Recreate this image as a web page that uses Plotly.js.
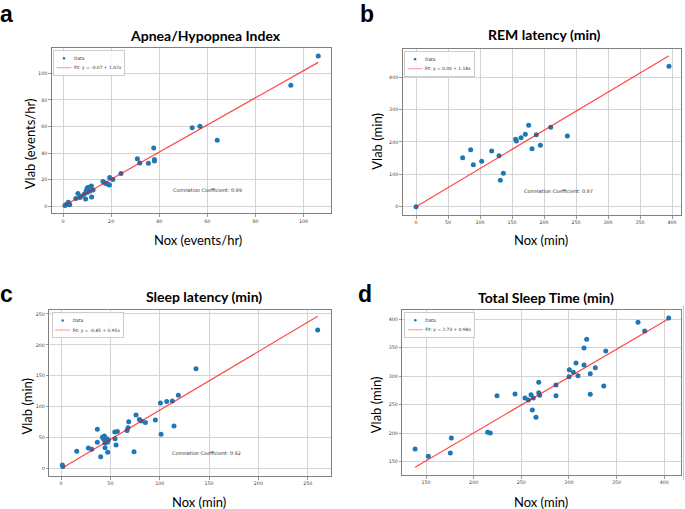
<!DOCTYPE html>
<html><head><meta charset="utf-8">
<script src="https://cdn.plot.ly/plotly-3.0.1.min.js"></script>
<style>html,body{margin:0;padding:0;background:#fff}#chart{width:685px;height:509px}</style>
</head><body><div id="chart"></div>
<script>
// ---- Panel a: Apnea/Hypopnea Index ----
const ahiNox  = [0.8, 1.2, 1.8, 2.2, 2.5, 2.8, 5.3, 6.2, 7.0, 7.6, 8.8, 9.4, 9.6, 10.0, 10.2, 10.5, 10.8, 11.2, 11.8, 11.9, 12.5, 16.6, 17.5, 18.0, 18.9, 19.4, 19.3, 20.7, 24.1, 30.9, 31.9, 35.5, 37.7, 38.0, 38.0, 53.7, 56.9, 64.1, 94.7, 106.1];
const ahiVlab = [0.6, 1.2, 1.5, 3.0, 1.8, 1.2, 5.8, 9.5, 6.5, 7.5, 9.0, 5.5, 11.5, 13.5, 10.5, 14.3, 12.0, 11.5, 15.3, 7.0, 12.2, 18.6, 17.5, 17.2, 16.3, 21.6, 16.0, 20.1, 24.6, 35.8, 32.6, 32.3, 43.9, 35.1, 34.1, 59.1, 60.1, 49.6, 91.0, 113.0];
const ahiFitX = [0.8, 106.1];
const ahiFitY = [0.7, 108.2];

// ---- Panel b: REM latency ----
const remNox  = [0, 72.9, 85.4, 89.6, 102.6, 118.2, 129.7, 131.8, 136.5, 155.7, 156.8, 164.1, 170.8, 176.0, 181.3, 188.0, 194.3, 210.4, 236.5, 395.3];
const remVlab = [0, 151.5, 176.2, 129.8, 140.1, 172.1, 157.7, 81.4, 103.0, 208.1, 203.0, 213.3, 223.6, 251.4, 179.3, 222.6, 189.6, 245.2, 218.4, 433.8];
const remFitX = [0, 395.3];
const remFitY = [0, 466.5];

// ---- Panel c: Sleep latency ----
const slNox  = [1.3, 1.8, 15.9, 27.7, 31.1, 36.8, 36.8, 40.2, 41.9, 43.2, 43.9, 44.6, 44.5, 45.5, 46.5, 47.0, 47.3, 48.0, 54.4, 54.7, 55.7, 57.1, 66.9, 67.9, 68.6, 74.0, 76.0, 79.4, 81.4, 85.5, 95.6, 100.7, 101.4, 107.1, 112.8, 114.5, 118.9, 136.8, 260.1];
const slVlab = [5.3, 3.0, 27.5, 32.9, 30.8, 63.2, 42.3, 18.8, 50.2, 47.0, 52.3, 33.4, 41.0, 44.0, 48.0, 42.0, 25.9, 46.0, 58.8, 47.8, 37.7, 59.4, 61.2, 65.8, 75.3, 26.9, 86.4, 79.0, 76.6, 74.2, 78.3, 105.8, 55.1, 108.0, 109.1, 68.6, 118.3, 161.4, 224.1];
const slFitX = [1.3, 260.1];
const slFitY = [0.4, 246.2];

// ---- Panel d: Total Sleep Time ----
const tstNox  = [138.5, 152.4, 175.5, 176.6, 214.7, 217.5, 224.5, 243.4, 253.9, 257.4, 260.2, 262.6, 261.6, 265.4, 268.3, 268.3, 269.3, 286.4, 286.4, 300.1, 300.4, 304.6, 307.4, 309.5, 315.8, 315.8, 318.6, 322.4, 322.4, 327.7, 336.5, 338.6, 372.5, 379.5, 404.7];
const tstVlab = [172.3, 159.5, 165.3, 191.6, 201.5, 200.3, 265.7, 268.6, 261.6, 258.1, 267.4, 261.6, 240.6, 227.8, 289.2, 271.0, 266.4, 284.4, 265.7, 299.0, 311.2, 306.6, 322.9, 300.7, 349.2, 319.4, 364.4, 304.2, 268.1, 314.7, 282.7, 344.0, 394.2, 379.0, 401.8];
const tstFitX = [138.5, 404.7];
const tstFitY = [140.5, 400.5];

// ---- Texts ----
const panelLetters = ['a', 'b', 'c', 'd'];
const panelTitles = ['Apnea/Hypopnea Index', 'REM latency (min)', 'Sleep latency (min)', 'Total Sleep Time (min)'];
const xTitles = ['Nox (events/hr)', 'Nox (min)', 'Nox (min)', 'Nox (min)'];
const yTitles = ['Vlab (events/hr)', 'Vlab (min)', 'Vlab (min)', 'Vlab (min)'];
const fitLabels = ['Fit: y = -0.07 + 1.02x', 'Fit: y = 0.00 + 1.18x', 'Fit: y = -0.85 + 0.95x', 'Fit: y = 2.73 + 0.98x'];
const corrLabels = ['Correlation Coefficient: 0.99', 'Correlation Coefficient: 0.97', 'Correlation Coefficient: 0.92', null];
const corrPos = [[44.8, 12.6], [166, 49.5], [110.5, 25.4], null];

const W = 685, H = 509;
const px = v => v / W;
const py = v => 1 - v / H;

const BLUE = '#1f77b4';
const RED = 'rgba(255,0,0,0.72)';
const tickFont = {family: 'DejaVu Sans', size: 4.8, color: '#444'};

const panels = [
  {nx: ahiNox, ny: ahiVlab, fx: ahiFitX, fy: ahiFitY, box: [51.7, 331, 48.3, 213.3], xr: [-4.7, 111.4], yr: [-5.3, 118.8], dx: 20, dy: 20,
   title: [205.5, 35.5], letter: [-1, 0], ytit: [29.5, 143.7], xtit: [198, 240], legend: [53, 50]},
  {nx: remNox, ny: remVlab, fx: remFitX, fy: remFitY, box: [402.7, 680.7, 49.3, 215], xr: [-20.8, 413.6], yr: [-25.7, 486.5], dx: 50, dy: 100,
   title: [544.5, 34.5], letter: [359, 0], ytit: [376.2, 141.5], xtit: [541, 240], legend: [404, 51]},
  {nx: slNox, ny: slVlab, fx: slFitX, fy: slFitY, box: [49.3, 330.7, 310, 476], xr: [-11.9, 273.3], yr: [-12.5, 256.4], dx: 50, dy: 50,
   title: [203.5, 296.7], letter: [-1, 280], ytit: [26.7, 405.8], xtit: [199, 501.7], legend: [51.7, 312.3]},
  {nx: tstNox, ny: tstVlab, fx: tstFitX, fy: tstFitY, box: [402.3, 680.7, 310, 475], xr: [125.1, 417.3], yr: [126.8, 415.8], dx: 50, dy: 50,
   title: [545.8, 297], letter: [357, 280], ytit: [376.2, 405], xtit: [541, 501.7], legend: [404.3, 312]}
];

const traces = [];
const layout = {
  width: W, height: H,
  margin: {l: 0, r: 0, t: 0, b: 0},
  paper_bgcolor: '#ffffff', plot_bgcolor: '#ffffff',
  showlegend: true,
  annotations: [],
  shapes: [
    {type: 'line', xref: 'paper', yref: 'paper', x0: px(683.5), x1: px(683.5), y0: py(480), y1: py(305), line: {color: '#c8c8c8', width: 1}}
  ]
};

panels.forEach((p, i) => {
  const n = i === 0 ? '' : String(i + 1);
  const xa = 'x' + n, ya = 'y' + n;
  const lg = 'legend' + n;
  traces.push({
    type: 'scatter', mode: 'markers', x: p.nx, y: p.ny, xaxis: xa, yaxis: ya, name: 'Data',
    marker: {color: BLUE, size: 5}, legend: lg, cliponaxis: false
  });
  traces.push({
    type: 'scatter', mode: 'lines', x: p.fx, y: p.fy, xaxis: xa, yaxis: ya, name: fitLabels[i],
    line: {color: RED, width: 1.2}, legend: lg
  });
  const common = {
    showline: true, mirror: true, linecolor: '#808080', linewidth: 1,
    showgrid: true, gridcolor: '#d4d4d4', gridwidth: 1, zeroline: false,
    ticks: 'outside', ticklen: 2.5, tickwidth: 0.8, tickcolor: '#808080',
    tickfont: tickFont, fixedrange: true
  };
  layout['xaxis' + n] = Object.assign({}, common, {
    domain: [px(p.box[0]), px(p.box[1])], range: p.xr, dtick: p.dx, tick0: 0, anchor: ya
  });
  layout['yaxis' + n] = Object.assign({}, common, {
    domain: [py(p.box[3]), py(p.box[2])], range: p.yr, dtick: p.dy, tick0: 0, anchor: xa
  });
  layout[lg] = {
    x: px(p.legend[0]), y: py(p.legend[1]), xanchor: 'left', yanchor: 'top', xref: 'paper', yref: 'paper',
    bgcolor: 'rgba(255,255,255,0.85)', bordercolor: '#cccccc', borderwidth: 2,
    font: {family: 'DejaVu Sans', size: 8.8, color: '#333'}, tracegroupgap: 0, itemwidth: 30
  };
  // panel letter
  layout.annotations.push({text: '<b>' + panelLetters[i] + '</b>', xref: 'paper', yref: 'paper', x: px(p.letter[0]), y: py(p.letter[1]),
    xanchor: 'left', yanchor: 'top', borderpad: 0, showarrow: false, font: {family: 'Liberation Sans', size: 23, color: '#000'}});
  // title
  layout.annotations.push({text: '<b>' + panelTitles[i] + '</b>', xref: 'paper', yref: 'paper', x: px(p.title[0]), y: py(p.title[1]),
    xanchor: 'center', yanchor: 'middle', showarrow: false, font: {family: 'Lato', size: 14, color: '#000'}});
  // x title
  layout.annotations.push({text: xTitles[i], xref: 'paper', yref: 'paper', x: px(p.xtit[0]), y: py(p.xtit[1]),
    xanchor: 'center', yanchor: 'middle', showarrow: false, font: {family: 'Lato', size: 13, color: '#000'}});
  // y title
  layout.annotations.push({text: yTitles[i], xref: 'paper', yref: 'paper', x: px(p.ytit[0]), y: py(p.ytit[1]),
    xanchor: 'center', yanchor: 'middle', textangle: -90, showarrow: false, font: {family: 'Lato', size: 13, color: '#000'}});
  // correlation
  if (corrLabels[i]) {
    layout.annotations.push({text: corrLabels[i], xref: xa, yref: ya, x: corrPos[i][0], y: corrPos[i][1],
      xanchor: 'left', yanchor: 'middle', showarrow: false, font: {family: 'DejaVu Sans', size: 4.9, color: '#333'}});
  }
});

Plotly.newPlot('chart', traces, layout, {staticPlot: true, displayModeBar: false}).then(gd => {
  // shrink every legend to the small size of the reference figure
  ['legend', 'legend2', 'legend3', 'legend4'].forEach(id => {
    gd.querySelectorAll('g.' + id).forEach(g => {
      const t = g.getAttribute('transform') || '';
      g.setAttribute('transform', t + ' scale(0.5)');
    });
  });
});
</script>
</body></html>
